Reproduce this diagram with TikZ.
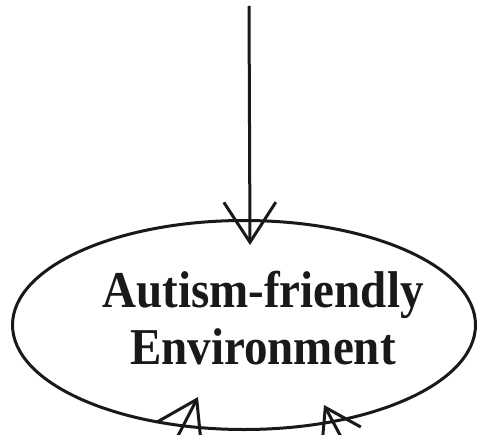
\documentclass[tikz,border=0pt]{standalone}
\usepackage{fontspec}
\setmainfont{Liberation Serif}
\usetikzlibrary{shapes.geometric,arrows.meta}
\begin{document}
\begin{tikzpicture}[x=1pt,y=-1pt,
  pen/.style={line width=3pt,draw=black!90},
  barb/.style={-{Straight Barb[length=#1,width=1.3*#1,line width=3pt]}},
  envshape/.style={ellipse,pen,minimum width=463pt,minimum height=209pt,inner sep=0pt},
  labeltext/.style={font=\fontsize{47}{52}\selectfont\bfseries,align=center,text=black!90,inner sep=0pt}]
\useasboundingbox (0,0) rectangle (478,435);
\clip (0,0) rectangle (478,435);
\node[envshape] (env) at (244,325) {};
\node[labeltext,yscale=1.1,transform shape] (lbl) at (263,318) {Autism-friendly\\Environment};
\coordinate (src) at (249,6);
\coordinate (tip1) at (250,245);
\coordinate (tail2) at (150,490);
\coordinate (tip2) at (198,397);
\coordinate (tail3) at (372,495);
\coordinate (tip3) at (324,405);
\draw[pen,barb=40pt] (src) -- (tip1);
\draw[pen,barb=38pt] (tail2) -- (tip2);
\draw[pen,barb=34pt] (tail3) -- (tip3);
\end{tikzpicture}
\end{document}
